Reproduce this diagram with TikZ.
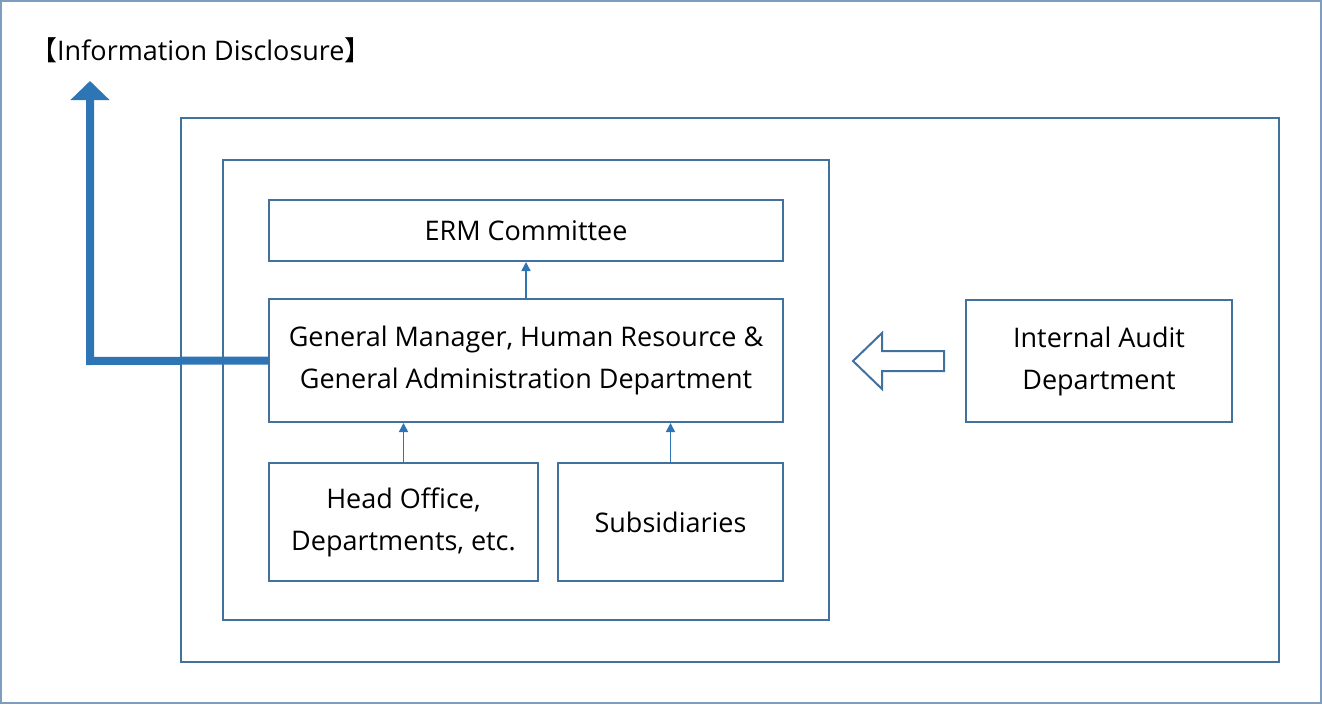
\documentclass[tikz,border=0pt]{standalone}
\usepackage{fontspec}
\setmainfont{Open Sans}
\newfontfamily\cjkfont{Noto Sans CJK JP}
\usetikzlibrary{arrows.meta}
\definecolor{boxblue}{HTML}{41719C}
\definecolor{arrowblue}{HTML}{2E75B6}
\definecolor{framegray}{HTML}{7F9DBF}
\tikzset{
  x=1pt,y=-1pt,
  boxline/.style={draw=boxblue,line width=2pt},
  labelbox/.style={boxline,align=center,font=\fontsize{27}{42}\selectfont,inner sep=0pt},
  smallarrow/.style={draw=arrowblue,line width=1.6pt,-{Triangle[length=9pt,width=9pt]}},
}
\begin{document}
\begin{tikzpicture}
\useasboundingbox (0,0) rectangle (1322,704);
\draw[framegray,line width=2pt] (1,1) rectangle (1321,703);
\node[anchor=west,font=\fontsize{27}{30}\selectfont,inner sep=0pt] (title) at (30,50) {{\cjkfont 【}Information Disclosure{\cjkfont 】}};
\draw[boxline] (181,118) rectangle (1279,662);
\draw[boxline] (223,160) rectangle (829,620);
\node[labelbox,minimum width=514pt,minimum height=61pt] (erm) at (526,230.5) {ERM Committee};
\node[labelbox,minimum width=514pt,minimum height=123pt] (gm) at (526,360.5) {General Manager, Human Resource \&\\General Administration Department};
\node[labelbox,minimum width=269pt,minimum height=118pt] (ho) at (403.5,522) {Head Office,\\Departments, etc.};
\node[labelbox,minimum width=225pt,minimum height=118pt] (sub) at (670.5,522) {Subsidiaries};
\node[labelbox,minimum width=266pt,minimum height=122pt] (ia) at (1099,361) {Internal Audit\\Department};
\draw[smallarrow] (gm.north) -- (erm.south);
\draw[smallarrow] (ho.north) -- (ho.north |- gm.south);
\draw[smallarrow] (sub.north) -- (sub.north |- gm.south);
\coordinate (corner) at (90,361);
\coordinate (top) at (90,81);
\draw[arrowblue,line width=8pt,-{Triangle[length=19pt,width=38pt]}] (gm.west) -- (corner) -- (top);
\draw[boxblue,line width=2pt,line join=miter,fill=white] (944,351) -- (882,351) -- (882,333) -- (853,361) -- (882,389) -- (882,371) -- (944,371) -- cycle;
\end{tikzpicture}
\end{document}
